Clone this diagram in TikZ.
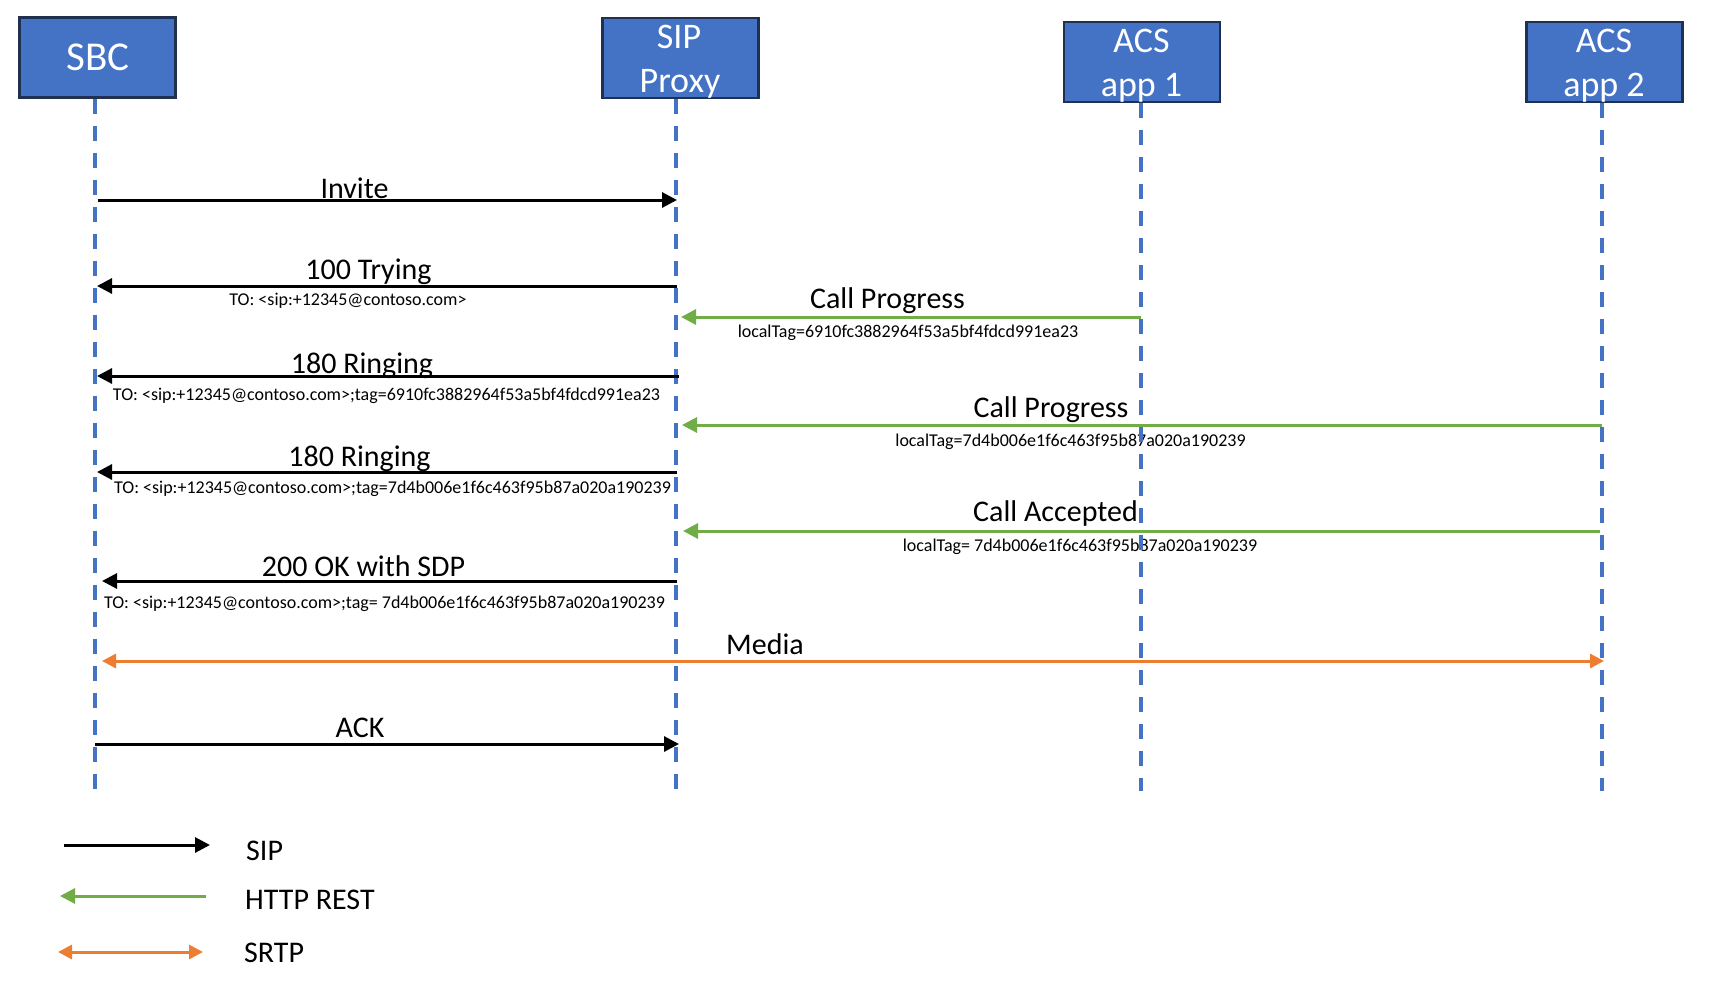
\documentclass[tikz,border=0pt]{standalone}
\usepackage{fontspec}
\setmainfont{Carlito}
\usetikzlibrary{arrows.meta}
\definecolor{boxblue}{HTML}{4472C4}
\definecolor{boxedge}{HTML}{1F3050}
\definecolor{lifeblue}{HTML}{4472C4}
\definecolor{httpgreen}{HTML}{70AD47}
\definecolor{srtporange}{HTML}{ED7D31}
\begin{document}
\begin{tikzpicture}[x=1pt,y=-1pt,
 actor/.style={draw=boxedge, line width=2.7pt, fill=boxblue, minimum width=156pt, minimum height=80pt, inner sep=0pt},
 actorlbl/.style={text=white, font=\fontsize{36}{44}\selectfont, anchor=base, inner sep=0pt},
 sbclbl/.style={text=white, font=\fontsize{41}{48}\selectfont, anchor=base, inner sep=0pt},
 lifeline/.style={draw=lifeblue, line width=3.5pt, dash pattern=on 15pt off 12pt},
 sipmsg/.style={draw=black, line width=3pt, -{Triangle[length=15pt,width=15pt]}},
 httpmsg/.style={draw=httpgreen, line width=3pt, -{Triangle[length=15pt,width=15pt]}},
 srtpmsg/.style={draw=srtporange, line width=3pt, {Triangle[length=14pt,width=14pt]}-{Triangle[length=14pt,width=14pt]}},
 biglbl/.style={font=\fontsize{30}{36}\selectfont, anchor=base, inner sep=0pt},
 smalllbl/.style={font=\fontsize{18}{22}\selectfont, anchor=base, inner sep=0pt}]

\useasboundingbox (0,0) rectangle (1710,988);
\fill[white] (0,0) rectangle (1710,988);

% actors
\node[actor] (sbc) at (97.5,57.5) {};
\node[actor] (sip) at (680.5,58) {};
\node[actor] (acs1) at (1142,62) {};
\node[actor] (acs2) at (1604.5,62) {};
\node[sbclbl] (sbcT) at (98,70) {SBC};
\node[actorlbl] (sipT1) at (679,48) {SIP};
\node[actorlbl] (sipT2) at (680,92) {Proxy};
\node[actorlbl] (acs1T1) at (1141.5,52) {ACS};
\node[actorlbl] (acs1T2) at (1141.5,96) {app 1};
\node[actorlbl] (acs2T1) at (1604,52) {ACS};
\node[actorlbl] (acs2T2) at (1604,96) {app 2};

% labels
\node[biglbl] (lInvite) at (354.5,198) {Invite};
\node[biglbl] (lTry) at (368.5,279) {100 Trying};
\node[smalllbl] (sTry) at (348,305) {TO: <sip:+12345@contoso.com>};
\node[biglbl] (lCP1) at (887.5,308) {Call Progress};
\node[smalllbl] (sCP1) at (908,337) {localTag=6910fc3882964f53a5bf4fdcd991ea23};
\node[biglbl] (lR1) at (362,373) {180 Ringing};
\node[smalllbl] (sR1) at (386.5,400) {TO: <sip:+12345@contoso.com>;tag=6910fc3882964f53a5bf4fdcd991ea23};
\node[biglbl] (lCP2) at (1051,417) {Call Progress};
\node[smalllbl] (sCP2) at (1070.5,446) {localTag=7d4b006e1f6c463f95b87a020a190239};
\node[biglbl] (lR2) at (359.5,466) {180 Ringing};
\node[smalllbl] (sR2) at (392.5,493) {TO: <sip:+12345@contoso.com>;tag=7d4b006e1f6c463f95b87a020a190239};
\node[biglbl] (lCA) at (1055.5,521) {Call Accepted};
\node[smalllbl] (sCA) at (1080,551) {localTag= 7d4b006e1f6c463f95b87a020a190239};
\node[biglbl] (lOK) at (363.5,576) {200 OK with SDP};
\node[smalllbl] (sOK) at (384.5,608) {TO: <sip:+12345@contoso.com>;tag= 7d4b006e1f6c463f95b87a020a190239};
\node[biglbl] (lMedia) at (765,654) {Media};
\node[biglbl] (lAck) at (360,737) {ACK};

% lifelines
\coordinate (sbcL) at (95,791);
\coordinate (sipL) at (676,791);
\coordinate (acs1L) at (1141,791);
\coordinate (acs2L) at (1602,791);
\draw[lifeline] (sbcL |- sbc.south) -- (sbcL);
\draw[lifeline] (sipL |- sip.south) -- (sipL);
\draw[lifeline] (acs1L |- acs1.south) -- (acs1L);
\draw[lifeline] (acs2L |- acs2.south) -- (acs2L);

% messages
\coordinate (m1a) at (98,200);   \coordinate (m1b) at (677,200);
\coordinate (m2a) at (677,286);  \coordinate (m2b) at (97,286);
\coordinate (m3a) at (1141,317); \coordinate (m3b) at (681,317);
\coordinate (m4a) at (679,376);  \coordinate (m4b) at (97,376);
\coordinate (m5a) at (1602,425); \coordinate (m5b) at (682,425);
\coordinate (m6a) at (677,472);  \coordinate (m6b) at (97,472);
\coordinate (m7a) at (1600,531); \coordinate (m7b) at (683,531);
\coordinate (m8a) at (677,581);  \coordinate (m8b) at (102,581);
\coordinate (m9a) at (102,661);  \coordinate (m9b) at (1604,661);
\coordinate (m10a) at (95,744);  \coordinate (m10b) at (679,744);
\draw[sipmsg] (m1a) -- (m1b);
\draw[sipmsg] (m2a) -- (m2b);
\draw[httpmsg] (m3a) -- (m3b);
\draw[sipmsg] (m4a) -- (m4b);
\draw[httpmsg] (m5a) -- (m5b);
\draw[sipmsg] (m6a) -- (m6b);
\draw[httpmsg] (m7a) -- (m7b);
\draw[sipmsg] (m8a) -- (m8b);
\draw[srtpmsg] (m9a) -- (m9b);
\draw[sipmsg] (m10a) -- (m10b);

% legend
\coordinate (g1a) at (64,845);  \coordinate (g1b) at (210,845);
\coordinate (g2a) at (206,896); \coordinate (g2b) at (60,896);
\coordinate (g3a) at (58,952);  \coordinate (g3b) at (203,952);
\draw[sipmsg] (g1a) -- (g1b);
\draw[httpmsg] (g2a) -- (g2b);
\draw[srtpmsg] (g3a) -- (g3b);
\node[biglbl, anchor=base west] (gSIP) at (246,860) {SIP};
\node[biglbl, anchor=base west] (gHTTP) at (245,909) {HTTP REST};
\node[biglbl, anchor=base west] (gSRTP) at (244,962) {SRTP};
\end{tikzpicture}
\end{document}
